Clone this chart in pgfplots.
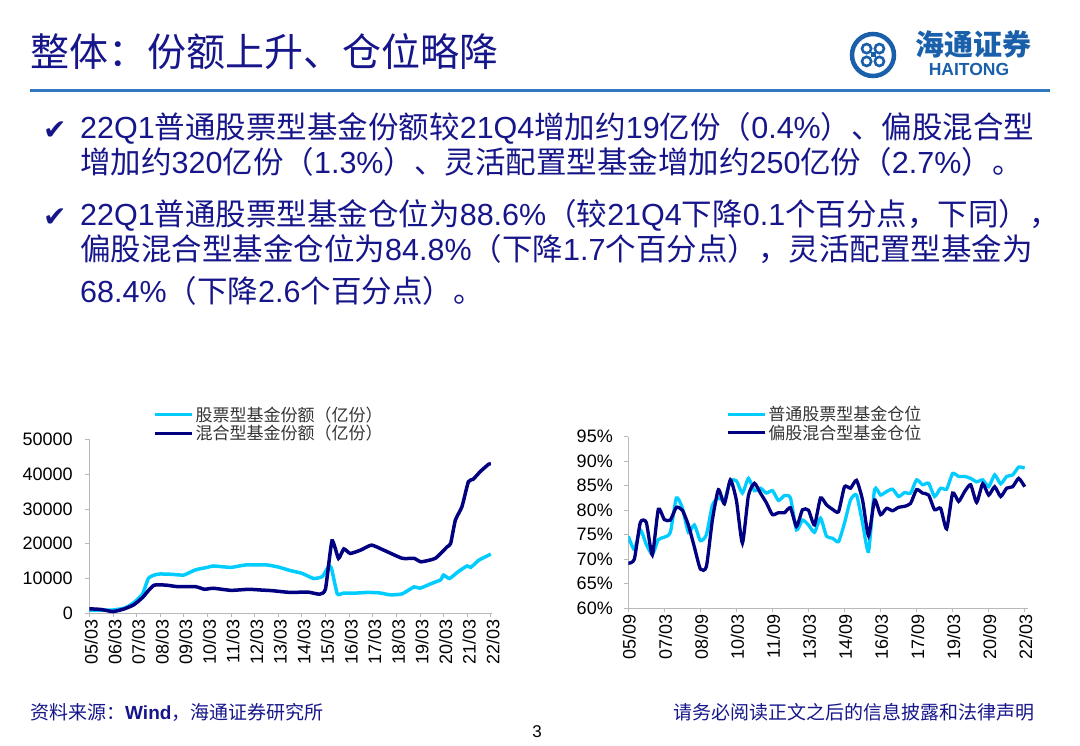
\documentclass[border=0pt]{standalone}
\usepackage{fontspec}
\setmainfont{Liberation Sans}
\newfontfamily\cjk{Noto Sans CJK SC}
\newfontfamily\dejavu{DejaVu Sans}
\usepackage{pgfplots}
\pgfplotsset{compat=1.18}
\definecolor{navy}{RGB}{22,22,138}
\definecolor{lightc}{RGB}{0,204,255}
\definecolor{darkc}{RGB}{0,0,128}
\definecolor{rulec}{RGB}{50,120,190}
\definecolor{logoc}{RGB}{25,95,170}
\begin{document}
\begin{tikzpicture}
\useasboundingbox (0,0) rectangle (1080pt,-746pt);
\begin{scope}[x=1pt,y=-1pt]
% title
\node[anchor=base west, inner sep=0, text=navy, font=\cjk\fontsize{39}{40}\selectfont] at (30,67) {整体：份额上升、仓位略降};
\draw[rulec, line width=3pt] (30,91) -- (1050,91);
% logo
\draw[logoc, line width=4.5pt] (873,55) circle (21);
\foreach \p in {(866.6,48.6),(879.4,48.6),(866.6,61.4),(879.4,61.4)} \draw[logoc, line width=2.6pt] \p circle (4.6);
\fill[logoc] (870.5,52.5) rectangle (875.5,57.5);
\node[anchor=base, inner sep=0, text=logoc, font=\cjk\fontsize{29}{30}\selectfont\bfseries] at (973,56) {海通证券};
\node[anchor=base, inner sep=0, text=logoc, font=\fontsize{17.5}{18}\selectfont\bfseries] at (969,76) {HAITONG};
% bullets
\node[anchor=base west, inner sep=0, text=navy, font=\dejavu\fontsize{28}{30}\selectfont] at (43,140) {✔};
\node[anchor=base west, inner sep=0, text=navy, font=\dejavu\fontsize{28}{30}\selectfont] at (43,227) {✔};
\node[anchor=base west, inner sep=0, text=navy, font=\fontsize{30.5}{32}\selectfont] at (80,139) {22Q1{\cjk 普通股票型基金份额较}21Q4{\cjk 增加约}19{\cjk 亿份（}0.4\%{\cjk ）、偏股混合型}};
\node[anchor=base west, inner sep=0, text=navy, font=\fontsize{30.5}{32}\selectfont] at (80,174) {{\cjk 增加约}320{\cjk 亿份（}1.3\%{\cjk ）、灵活配置型基金增加约}250{\cjk 亿份（}2.7\%{\cjk ）。}};
\node[anchor=base west, inner sep=0, text=navy, font=\fontsize{30.5}{32}\selectfont] at (80,226) {22Q1{\cjk 普通股票型基金仓位为}88.6\%{\cjk （较}21Q4{\cjk 下降}0.1{\cjk 个百分点，下同），}};
\node[anchor=base west, inner sep=0, text=navy, font=\fontsize{30.5}{32}\selectfont] at (80,261) {{\cjk 偏股混合型基金仓位为}84.8\%{\cjk （下降}1.7{\cjk 个百分点），灵活配置型基金为}};
\node[anchor=base west, inner sep=0, text=navy, font=\fontsize{30.5}{32}\selectfont] at (80,303) {68.4\%{\cjk （下降}2.6{\cjk 个百分点）。}};
% footer
\node[anchor=base west, inner sep=0, text=navy, font=\fontsize{19}{20}\selectfont] at (30,719) {{\cjk 资料来源：}\textbf{Wind}{\cjk ，海通证券研究所}};
\node[anchor=base east, inner sep=0, text=navy, font=\cjk\fontsize{19}{20}\selectfont] at (1035,719) {请务必阅读正文之后的信息披露和法律声明};
\node[anchor=base, inner sep=0, text=black, font=\fontsize{17}{18}\selectfont] at (537,737) {3};
\end{scope}

% ---------------- left chart ----------------
\begin{axis}[
  at={(89.3pt,-613.3pt)}, anchor=south west,
  scale only axis, width=402.7pt, height=174pt,
  xmin=0, xmax=68.2, ymin=0, ymax=50000,
  axis x line*=bottom, axis y line*=left,
  axis line style={draw=gray!55, line width=0.8pt},
  every tick/.style={draw=gray!55, line width=0.8pt},
  tick align=outside, major tick length=4pt,
  xtick={0,4,...,68},
  xticklabels={05/03,06/03,07/03,08/03,09/03,10/03,11/03,12/03,13/03,14/03,15/03,16/03,17/03,18/03,19/03,20/03,21/03,22/03},
  x tick label style={rotate=90, anchor=east, font=\fontsize{18}{18}\selectfont, inner sep=2pt, yshift=-2pt},
  ytick={0,10000,...,50000},
  scaled y ticks=false,
  y tick label style={/pgf/number format/1000 sep={}, font=\fontsize{18}{18}\selectfont, xshift=-9pt},
  /pgf/number format/assume math mode=true,
  legend style={at={(0.158,1.2)}, anchor=north west, draw=none, fill=none, inner sep=0pt, row sep=-1.5pt, font=\cjk\fontsize{17}{18}\selectfont, text=black!80},
  legend image code/.code={\draw[#1] (0pt,0pt) -- (37pt,0pt);},
  legend cell align=left,
]
\addplot[lightc, line width=3.5pt, smooth, tension=0.3] coordinates {
(0,950) (2,900) (4,950) (6,1500) (7.5,3000) (9,5500) (10,10000) (11,11000) (12,11300) (14,11200) (16,11000) (18,12500) (20,13200) (21,13600) (24,13200) (26.5,13900) (30,13900) (32,13300) (34,12300) (36,11500) (38,10000) (39.5,10600) (40.5,13400) (41,13000) (42,5600) (43,5800) (45,5800) (47,6000) (49,5900) (51,5300) (53,5600) (55,7600) (56,7200) (58,8600) (59.5,9600) (60,11000) (61,10000) (62.5,12000) (64,13600) (64.6,13200) (66,15300) (68,17000)
};
\addlegendentry{股票型基金份额（亿份）}
\addplot[darkc, line width=3.5pt, smooth, tension=0.3] coordinates {
(0,1300) (2,1100) (4,500) (5.8,1200) (7.5,2400) (9,4500) (10,6500) (11,8100) (13,8100) (15,7650) (18,7650) (19.5,6900) (21,7200) (24,6600) (27,6900) (29,6700) (31,6500) (34,6000) (37,6100) (39,5500) (40,7000) (41.1,20800) (42.2,15800) (43.1,18500) (44.2,17200) (46,18200) (47.8,19600) (49.8,18200) (53,15800) (55,15800) (56.2,14800) (58.6,15800) (60.6,19100) (61.2,20100) (62,26800) (63.1,30600) (64.2,37800) (65,38500) (66.2,40700) (67.6,42800) (68,43000)
};
\addlegendentry{混合型基金份额（亿份）}
\end{axis}

% ---------------- right chart ----------------
\begin{axis}[
  at={(628.3pt,-608.3pt)}, anchor=south west,
  scale only axis, width=399.7pt, height=171.6pt,
  xmin=0, xmax=66.55, ymin=60, ymax=95,
  axis x line*=bottom, axis y line*=left,
  axis line style={draw=gray!55, line width=0.8pt},
  every tick/.style={draw=gray!55, line width=0.8pt},
  tick align=outside, major tick length=4pt,
  xtick={0,6,...,66},
  xticklabels={05/09,07/03,08/09,10/03,11/09,13/03,14/09,16/03,17/09,19/03,20/09,22/03},
  x tick label style={rotate=90, anchor=east, font=\fontsize{18}{18}\selectfont, inner sep=2pt, yshift=-1pt},
  ytick={60,65,...,95},
  yticklabel={\pgfmathprintnumber{\tick}\%},
  y tick label style={font=\fontsize{18}{18}\selectfont, xshift=-8pt},
  /pgf/number format/assume math mode=true,
  legend style={at={(0.244,1.19)}, anchor=north west, draw=none, fill=none, inner sep=0pt, row sep=-1.5pt, font=\cjk\fontsize{17}{18}\selectfont, text=black!80},
  legend image code/.code={\draw[#1] (0pt,0pt) -- (37pt,0pt);},
  legend cell align=left,
]
\addplot[lightc, line width=3.3pt, smooth, tension=0.35] coordinates {
(0,74.7) (1,72.0) (2,76.0) (3,73.0) (4,71.0) (5,74.0) (6,74.5) (7,75.5) (8,82.5) (9,80.5) (10,75.5) (11,77.0) (12,73.8) (13,75.0) (14,81.0) (15,82.5) (16,82.0) (17,86.0) (18,86.0) (19,83.5) (20,86.5) (21,84.0) (22,84.5) (23,83.5) (24,84.0) (25,82.0) (26,83.0) (27,82.5) (28,76.0) (29,78.0) (30,77.0) (31,75.5) (32,78.4) (33,74.7) (34,74.3) (35,73.6) (36,77.4) (37,82.1) (38,83.1) (39,77.4) (40,71.6) (41,84.2) (42,83.1) (43,83.8) (44,84.3) (45,82.8) (46,83.6) (47,83.5) (48,86.2) (49,85.2) (50,85.5) (51,82.8) (52,84.5) (53,84.3) (54,87.5) (55,86.9) (56,86.9) (57,86.5) (58,85.8) (59,86.2) (60,84.8) (61,87.2) (62,85.4) (63,86.9) (64,87.2) (65,88.8) (66,88.6)
};
\addlegendentry{普通股票型基金仓位}
\addplot[darkc, line width=3.3pt, smooth, tension=0.35] coordinates {
(0,69.2) (1,70.0) (2,77.5) (3,77.5) (4,70.9) (5,80.2) (6,78.1) (7,78.0) (8,80.6) (9,80.0) (10,77.0) (11,72.5) (12,68.0) (13,68.5) (14,78.0) (15,84.2) (16,81.3) (17,86.2) (18,82.0) (19,73.3) (20,83.0) (21,85.5) (22,83.5) (23,81.5) (24,79.1) (25,79.5) (26,79.5) (27,80.5) (28,76.7) (29,80.1) (30,80.0) (31,77.0) (32,82.5) (33,81.1) (34,80.2) (35,79.7) (36,84.8) (37,84.5) (38,86.1) (39,82.1) (40,74.8) (41,82.1) (42,79.1) (43,80.4) (44,79.9) (45,80.6) (46,80.8) (47,81.4) (48,84.2) (49,83.5) (50,83.1) (51,80.1) (52,80.4) (53,76.2) (54,83.5) (55,81.8) (56,83.8) (57,85.2) (58,81.6) (59,85.4) (60,83.1) (61,84.8) (62,82.8) (63,84.5) (64,84.8) (65,86.5) (66,84.8)
};
\addlegendentry{偏股混合型基金仓位}
\end{axis}
\end{tikzpicture}
\end{document}
